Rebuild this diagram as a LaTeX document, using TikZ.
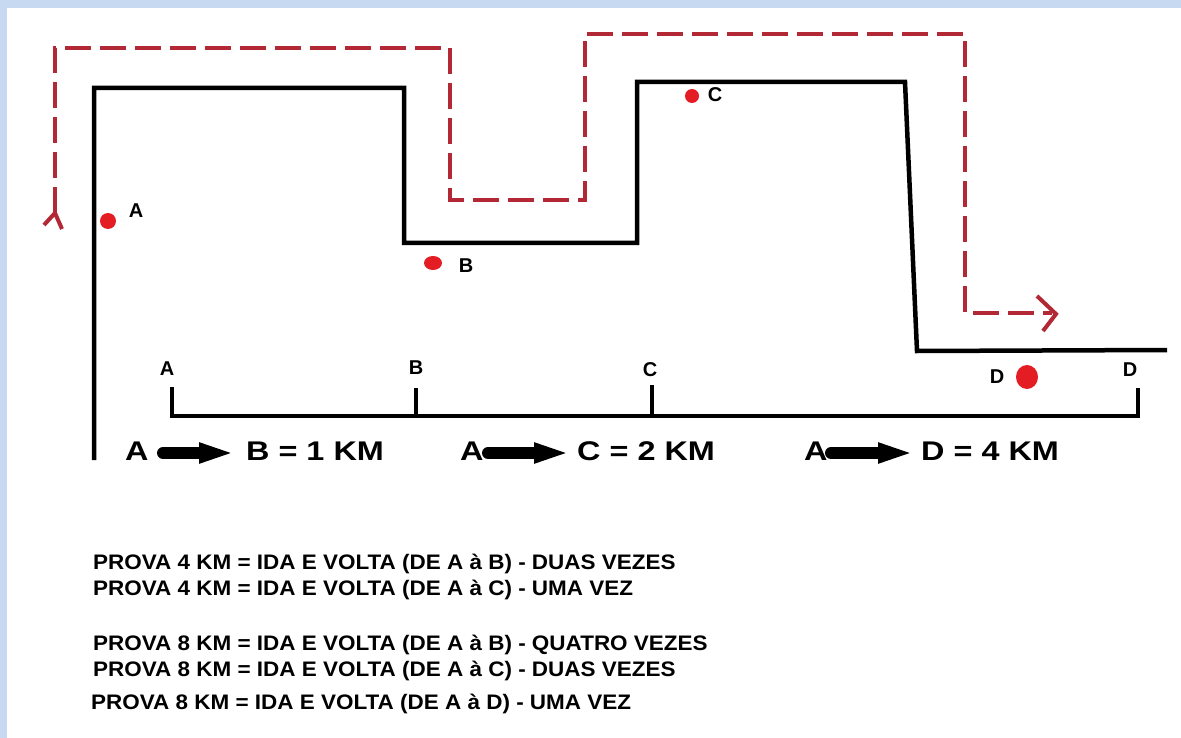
\documentclass[tikz,border=0pt]{standalone}
\usepackage{graphicx}
\usepackage{fontspec}
\setmainfont{Liberation Sans}
\usetikzlibrary{arrows.meta}
\definecolor{bgblue}{RGB}{198,217,240}
\definecolor{pathred}{RGB}{178,40,52}
\definecolor{dotred}{RGB}{228,28,36}
\newcommand\bigtxt[1]{\scalebox{1.2}[1]{#1}}
\newcommand\smalltxt[1]{\scalebox{1.07}[1]{#1}}
\begin{document}
\begin{tikzpicture}[x=1pt,y=-1pt,
  profile/.style={line width=4.5pt, line join=miter, black},
  route/.style={line width=4.5pt, pathred, dash pattern=on 26pt off 9pt},
  routetip/.style={line width=4pt, pathred, line join=miter},
  scaleline/.style={line width=4pt, black},
  lbl/.style={font=\fontsize{20}{20}\selectfont\bfseries, inner sep=0pt},
  bigl/.style={font=\fontsize{27}{27}\selectfont\bfseries, inner sep=0pt, anchor=west},
  txt/.style={font=\fontsize{21}{22}\selectfont\bfseries, inner sep=0pt, anchor=base west},
  fatarr/.style={line width=12pt, line cap=round, -{Triangle[length=42pt,width=17pt]}},
  dot/.style={fill=dotred}
]
\fill[bgblue] (0,0) rectangle (1181,738);
\fill[white] (7,8) rectangle (1181,738);
\useasboundingbox (0,0) rectangle (1181,738);

% terrain profile
\draw[profile] (94,460) -- (94,88) -- (404,88) -- (404,243) -- (637,243) -- (637,82) -- (905,82) -- (917,351) -- (1167,350);

% route (dashed red)
\draw[route] (55,213) -- (55,48) -- (450,48) -- (450,200) -- (585,200) -- (585,34) -- (965,34) -- (965,313) -- (1052,313);
\draw[routetip] (44,225) -- (55,213) -- (62,229);
\draw[routetip] (1037,296) -- (1056,314) -- (1043,331);

% points
\fill[dot] (108,221) ellipse [x radius=8, y radius=8];
\fill[dot] (433,263) ellipse [x radius=9, y radius=7];
\fill[dot] (692,96) ellipse [x radius=7, y radius=7];
\fill[dot] (1027,377) ellipse [x radius=11, y radius=12];
\node[lbl] (pa) at (136,211) {A};
\node[lbl] (pb) at (466,266) {B};
\node[lbl] (pc) at (715,95) {C};
\node[lbl] (pd) at (997,377) {D};

% distance scale
\coordinate (sa) at (172,416);
\coordinate (sb) at (416,416);
\coordinate (sc) at (652,416);
\coordinate (sd) at (1138,416);
\draw[scaleline] (172,387) -- (sa) -- (sd) -- (1138,388);
\draw[scaleline] (416,388) -- (sb);
\draw[scaleline] (652,385) -- (sc);
\node[lbl] (ta) at (167,369) {A};
\node[lbl] (tb) at (416,368) {B};
\node[lbl] (tc) at (650,370) {C};
\node[lbl] (td) at (1130,370) {D};

% distances
\node[bigl] (a1) at (125,451) {\bigtxt{A}};
\node[bigl] (b1) at (246,451) {\bigtxt{B = 1 KM}};
\node[bigl] (a2) at (460,451) {\bigtxt{A}};
\node[bigl] (c2) at (577,451) {\bigtxt{C = 2 KM}};
\node[bigl] (a3) at (804,451) {\bigtxt{A}};
\node[bigl] (d3) at (921,451) {\bigtxt{D = 4 KM}};
\coordinate (r1s) at (163,453); \coordinate (r1e) at (241,453);
\coordinate (r2s) at (488,453); \coordinate (r2e) at (576,453);
\coordinate (r3s) at (831,453); \coordinate (r3e) at (920,453);
\draw[fatarr] (r1s) -- (r1e);
\draw[fatarr] (r2s) -- (r2e);
\draw[fatarr] (r3s) -- (r3e);

% notes
\node[txt] (n1) at (93,569) {\smalltxt{PROVA 4 KM = IDA E VOLTA (DE A à B) - DUAS VEZES}};
\node[txt] (n2) at (93,595) {\smalltxt{PROVA 4 KM = IDA E VOLTA (DE A à C) - UMA VEZ}};
\node[txt] (n3) at (93,650) {\smalltxt{PROVA 8 KM = IDA E VOLTA (DE A à B) - QUATRO VEZES}};
\node[txt] (n4) at (93,676) {\smalltxt{PROVA 8 KM = IDA E VOLTA (DE A à C) - DUAS VEZES}};
\node[txt] (n5) at (91,709) {\smalltxt{PROVA 8 KM = IDA E VOLTA (DE A à D) - UMA VEZ}};
\end{tikzpicture}
\end{document}
